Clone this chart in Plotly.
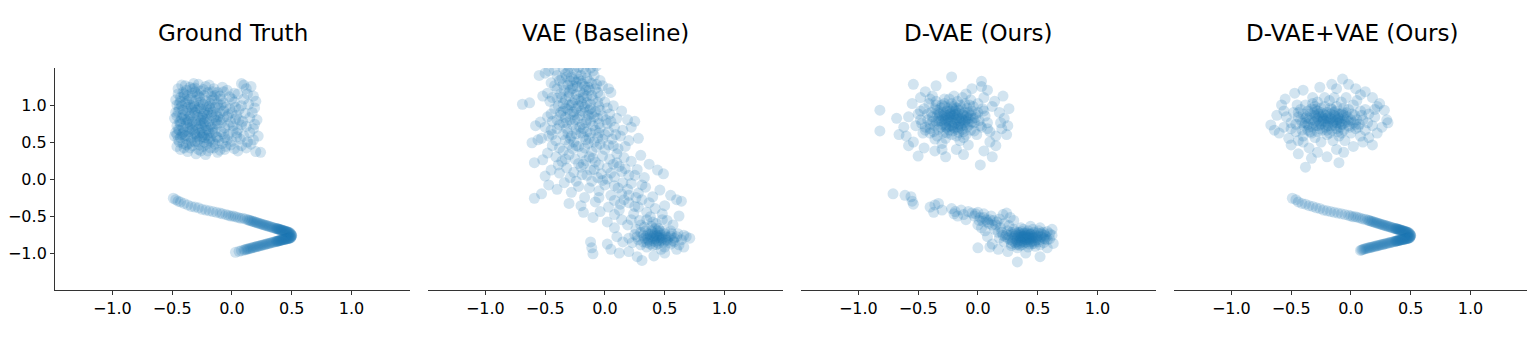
import plotly.graph_objects as go

# panel titles and tick labels
TITLES = ["Ground Truth", "VAE (Baseline)", "D-VAE (Ours)", "D-VAE+VAE (Ours)"]
TICK_VALS = [-1.0, -0.5, 0.0, 0.5, 1.0]
TICK_TEXT = ["\u22121.0", "\u22120.5", "0.0", "0.5", "1.0"]

# ---- Ground Truth: uniform blob + curve ----
GT_BLOB = [
    (-0.42, 1.27), (-0.35, 1.24), (-0.28, 1.28), (-0.22, 1.25), (-0.15, 1.22), (-0.08, 1.24), (0.08, 1.29),
    (0.12, 1.22), (0.16, 1.25), (-0.38, 1.20), (-0.31, 1.18), (-0.45, 1.15), (-0.40, 1.12), (-0.33, 1.16),
    (-0.27, 1.10), (-0.20, 1.17), (-0.14, 1.13), (-0.07, 1.18), (-0.02, 1.11), (0.05, 1.15), (0.10, 1.08),
    (0.18, 1.12), (-0.24, 1.21), (-0.43, 1.05), (-0.36, 1.07), (-0.17, 1.06), (-0.46, 1.00), (-0.39, 1.02),
    (-0.31, 0.98), (-0.26, 1.04), (-0.21, 0.99), (-0.12, 1.02), (-0.05, 0.97), (0.02, 1.04), (0.08, 0.99),
    (0.14, 1.01), (-0.34, 1.09), (-0.09, 1.08), (-0.44, 0.95), (0.19, 0.96), (-0.47, 0.90), (-0.41, 0.93),
    (-0.36, 0.89), (-0.29, 0.93), (-0.23, 0.91), (-0.18, 0.95), (-0.13, 0.88), (-0.07, 0.92), (0.00, 0.90),
    (0.06, 0.94), (0.11, 0.89), (-0.32, 0.86), (-0.25, 0.85), (-0.40, 0.84), (-0.48, 0.82), (-0.43, 0.78),
    (-0.37, 0.81), (-0.30, 0.79), (-0.24, 0.82), (-0.19, 0.78), (-0.15, 0.83), (-0.10, 0.80), (-0.04, 0.84),
    (0.03, 0.81), (0.09, 0.78), (0.15, 0.83), (0.21, 0.80), (-0.27, 0.75), (-0.35, 0.74), (-0.46, 0.72),
    (-0.41, 0.69), (-0.33, 0.71), (-0.28, 0.68), (-0.22, 0.72), (-0.17, 0.70), (-0.12, 0.74), (-0.06, 0.69),
    (0.01, 0.72), (0.05, 0.67), (0.12, 0.71), (0.18, 0.68), (-0.38, 0.76), (-0.20, 0.66), (-0.47, 0.63),
    (-0.42, 0.60), (-0.36, 0.64), (-0.31, 0.61), (-0.25, 0.63), (-0.21, 0.59), (-0.16, 0.62), (-0.09, 0.64),
    (-0.03, 0.60), (0.04, 0.62), (0.10, 0.58), (0.15, 0.63), (-0.44, 0.66), (-0.29, 0.57), (-0.45, 0.53),
    (-0.39, 0.55), (-0.34, 0.51), (-0.27, 0.54), (-0.23, 0.50), (-0.18, 0.55), (-0.11, 0.52), (-0.06, 0.56),
    (0.00, 0.51), (0.07, 0.54), (0.13, 0.50), (0.18, 0.53), (-0.41, 0.48), (-0.14, 0.47), (-0.46, 0.44),
    (-0.40, 0.42), (-0.33, 0.45), (-0.28, 0.40), (-0.24, 0.44), (-0.20, 0.38), (-0.15, 0.42), (-0.10, 0.39),
    (-0.05, 0.44), (0.02, 0.41), (0.08, 0.45), (0.20, 0.37), (0.24, 0.36), (-0.37, 0.37), (-0.30, 0.34),
    (-0.22, 0.33), (-0.43, 1.10), (-0.37, 0.97), (-0.33, 0.93), (-0.26, 0.95), (-0.21, 0.86), (-0.16, 0.91),
    (-0.41, 0.87), (-0.35, 0.68), (-0.25, 0.69), (-0.19, 0.63), (-0.13, 0.57), (-0.39, 0.59), (-0.31, 0.50),
    (-0.44, 0.77), (-0.28, 1.13), (-0.18, 1.02), (-0.11, 0.96), (-0.23, 0.77), (-0.32, 1.01), (-0.14, 0.75),
    (-0.45, 1.22), (-0.39, 1.26), (-0.33, 1.22), (-0.26, 1.19), (-0.19, 1.27), (-0.12, 1.17), (-0.04, 1.20),
    (0.02, 1.16), (-0.41, 1.17), (-0.29, 1.15), (-0.23, 1.13), (-0.16, 1.18), (-0.10, 1.12), (-0.47, 1.07),
    (-0.38, 1.05), (-0.30, 1.06), (-0.24, 1.01), (-0.15, 1.08), (-0.07, 1.03), (0.00, 1.08), (-0.42, 0.99),
    (-0.35, 1.00), (-0.28, 0.96), (-0.19, 0.98), (-0.09, 1.00), (-0.02, 0.95), (-0.45, 0.91), (-0.38, 0.92),
    (-0.31, 0.90), (-0.24, 0.88), (-0.17, 0.86), (-0.10, 0.89), (-0.03, 0.87), (0.04, 0.86), (-0.46, 0.85),
    (-0.39, 0.80), (-0.33, 0.77), (-0.28, 0.83), (-0.21, 0.81), (-0.13, 0.79), (-0.07, 0.83), (-0.01, 0.77),
    (0.06, 0.80), (-0.43, 0.74), (-0.37, 0.70), (-0.30, 0.73), (-0.24, 0.75), (-0.18, 0.73), (-0.09, 0.76),
    (-0.03, 0.73), (0.08, 0.73), (-0.45, 0.67), (-0.40, 0.64), (-0.33, 0.66), (-0.27, 0.62), (-0.22, 0.66),
    (-0.14, 0.64), (-0.07, 0.61), (0.01, 0.65), (-0.48, 0.58), (-0.43, 0.56), (-0.37, 0.58), (-0.30, 0.59),
    (-0.25, 0.57), (-0.19, 0.52), (-0.12, 0.56), (-0.04, 0.53), (0.04, 0.57), (-0.44, 0.50), (-0.36, 0.48),
    (-0.29, 0.51), (-0.21, 0.47), (-0.16, 0.50), (-0.08, 0.48), (-0.01, 0.46), (-0.43, 0.40), (-0.35, 0.42),
    (-0.26, 0.38), (-0.18, 0.42), (-0.12, 0.36), (-0.06, 0.40), (0.05, 0.38), (0.12, 0.42), (0.16, 0.47),
    (0.22, 0.58), (0.19, 0.74), (0.17, 0.90), (0.13, 1.15), (0.20, 1.05), (0.10, 1.27), (0.03, 0.97),
    (-0.35, 0.85), (-0.26, 0.79), (-0.20, 0.93), (-0.14, 0.97), (-0.31, 0.64), (-0.23, 0.56), (-0.40, 1.15),
    (-0.32, 1.29), (-0.17, 1.12),
    (-0.44, 1.02), (-0.37, 1.13), (-0.34, 0.96), (-0.27, 1.00), (-0.22, 1.06), (-0.20, 0.89), (-0.42, 0.82),
    (-0.36, 0.78), (-0.29, 0.86), (-0.26, 0.72), (-0.16, 0.68), (-0.41, 0.62), (-0.34, 0.56), (-0.27, 0.46),
    (-0.20, 0.55), (-0.38, 0.46), (-0.46, 0.60), (-0.31, 1.23), (-0.24, 0.60), (-0.12, 0.84),
]
GT_CURVE = [
    (-0.49, -0.26), (-0.47, -0.28), (-0.45, -0.30), (-0.43, -0.31), (-0.40, -0.33), (-0.37, -0.35),
    (-0.34, -0.37), (-0.31, -0.38), (-0.28, -0.39), (-0.25, -0.41), (-0.22, -0.42), (-0.19, -0.43),
    (-0.16, -0.44), (-0.13, -0.45), (-0.10, -0.46), (-0.08, -0.47), (-0.05, -0.48), (-0.03, -0.49),
    (-0.01, -0.50), (0.01, -0.50), (0.03, -0.51), (0.05, -0.52), (0.07, -0.53), (0.09, -0.53),
    (0.11, -0.54), (0.13, -0.55), (0.14, -0.555), (0.15, -0.56), (0.16, -0.565), (0.17, -0.57),
    (0.18, -0.575), (0.19, -0.58), (0.20, -0.585), (0.21, -0.59), (0.22, -0.595), (0.23, -0.60),
    (0.24, -0.605), (0.25, -0.61), (0.26, -0.615), (0.27, -0.62), (0.28, -0.625), (0.29, -0.63),
    (0.30, -0.635), (0.31, -0.64), (0.32, -0.645), (0.33, -0.65), (0.34, -0.655), (0.35, -0.66),
    (0.36, -0.665), (0.37, -0.67), (0.38, -0.675), (0.39, -0.68), (0.40, -0.685), (0.41, -0.69),
    (0.42, -0.695), (0.43, -0.70), (0.44, -0.705), (0.45, -0.71), (0.46, -0.715), (0.47, -0.72),
    (0.48, -0.73), (0.49, -0.74), (0.495, -0.75), (0.50, -0.76), (0.50, -0.77), (0.495, -0.785),
    (0.49, -0.795), (0.48, -0.80), (0.47, -0.805), (0.46, -0.808), (0.45, -0.811), (0.44, -0.814),
    (0.43, -0.818), (0.42, -0.822), (0.41, -0.827), (0.40, -0.831), (0.39, -0.835), (0.38, -0.840),
    (0.37, -0.844), (0.36, -0.848), (0.35, -0.852), (0.34, -0.857), (0.33, -0.861), (0.32, -0.865),
    (0.31, -0.870), (0.30, -0.874), (0.29, -0.878), (0.28, -0.882), (0.27, -0.887), (0.26, -0.891),
    (0.25, -0.895), (0.24, -0.900), (0.23, -0.904), (0.22, -0.908), (0.21, -0.912), (0.20, -0.917),
    (0.19, -0.921), (0.18, -0.925), (0.17, -0.930), (0.16, -0.934), (0.15, -0.938), (0.14, -0.943),
    (0.13, -0.947), (0.12, -0.951), (0.11, -0.955), (0.10, -0.960), (0.08, -0.968), (0.06, -0.977),
    (0.03, -0.990),
    (0.485, -0.725), (0.475, -0.718), (0.465, -0.712), (0.455, -0.708), (0.445, -0.702), (0.435, -0.698),
    (0.425, -0.692), (0.415, -0.688), (0.405, -0.682), (0.395, -0.678), (0.385, -0.672), (0.375, -0.668),
    (0.497, -0.765), (0.492, -0.79), (0.485, -0.798), (0.475, -0.803), (0.465, -0.806), (0.455, -0.81),
    (0.445, -0.813), (0.435, -0.816), (0.425, -0.82), (0.415, -0.825), (0.405, -0.829), (0.395, -0.833),
    (0.385, -0.838), (0.375, -0.842),
]

# ---- VAE (Baseline): one smeared band ----
VAE_CLOUD = [
    (-0.55, 1.40), (-0.50, 1.43), (-0.42, 1.47), (-0.35, 1.50), (-0.30, 1.52), (-0.26, 1.48), (-0.22, 1.51),
    (-0.18, 1.49), (-0.12, 1.50), (-0.07, 1.53), (-0.33, 1.42), (-0.28, 1.38), (-0.20, 1.40), (-0.15, 1.36),
    (-0.09, 1.40), (-0.04, 1.33), (-0.38, 1.33), (-0.45, 1.30), (-0.31, 1.27), (-0.24, 1.31), (-0.17, 1.25),
    (-0.11, 1.29), (-0.02, 1.26), (0.03, 1.22), (-0.40, 1.22), (-0.34, 1.20), (-0.27, 1.22), (-0.21, 1.18),
    (-0.13, 1.20), (-0.06, 1.17), (0.05, 1.17), (-0.48, 1.16),
    (-0.69, 1.01), (-0.63, 1.03), (-0.52, 1.12), (-0.46, 1.05), (-0.40, 1.09), (-0.35, 1.02), (-0.30, 1.12),
    (-0.25, 1.07), (-0.22, 0.99), (-0.18, 1.10), (-0.15, 1.03), (-0.10, 1.08), (-0.05, 0.98), (0.00, 1.04),
    (0.07, 0.99), (0.14, 0.92), (-0.42, 0.95), (-0.37, 0.90), (-0.31, 0.94), (-0.26, 0.87), (-0.20, 0.92),
    (-0.14, 0.86), (-0.08, 0.91), (-0.02, 0.85), (0.04, 0.88), (0.10, 0.82), (0.25, 0.78), (0.19, 0.80),
    (-0.48, 0.84), (-0.54, 0.77), (-0.40, 0.80), (-0.33, 0.83), (-0.23, 0.81), (-0.17, 0.97), (-0.28, 1.00),
    (-0.12, 0.95),
    (-0.58, 0.72), (-0.50, 0.70), (-0.45, 0.66), (-0.38, 0.73), (-0.32, 0.68), (-0.27, 0.74), (-0.21, 0.70),
    (-0.16, 0.76), (-0.10, 0.72), (-0.04, 0.69), (0.02, 0.75), (0.08, 0.70), (0.15, 0.66), (0.22, 0.70),
    (-0.61, 0.49), (-0.53, 0.55), (-0.47, 0.58), (-0.41, 0.52), (-0.35, 0.60), (-0.29, 0.55), (-0.24, 0.61),
    (-0.18, 0.57), (-0.12, 0.62), (-0.06, 0.56), (0.00, 0.60), (0.06, 0.54), (0.13, 0.58), (0.20, 0.52),
    (0.28, 0.55), (-0.44, 0.45), (-0.38, 0.42), (-0.30, 0.47), (-0.22, 0.44), (-0.14, 0.48), (-0.07, 0.43),
    (0.03, 0.46), (0.11, 0.41), (0.17, 0.44), (-0.56, 0.53),
    (-0.59, 0.22), (-0.52, 0.26), (-0.48, 0.35), (-0.41, 0.30), (-0.36, 0.24), (-0.30, 0.33), (-0.25, 0.27),
    (-0.19, 0.35), (-0.13, 0.30), (-0.08, 0.23), (-0.02, 0.31), (0.04, 0.27), (0.10, 0.34), (0.16, 0.29),
    (0.22, 0.24), (0.30, 0.32), (0.37, 0.20), (0.44, 0.12), (0.49, 0.07), (-0.45, 0.12), (-0.38, 0.08),
    (-0.32, 0.15), (-0.26, 0.09), (-0.20, 0.16), (-0.15, 0.05), (-0.09, 0.13), (-0.03, 0.07), (0.02, 0.15),
    (0.08, 0.03), (0.14, 0.10), (0.20, 0.05), (0.27, 0.13), (0.33, 0.02), (-0.50, 0.04),
    (-0.59, -0.26), (-0.53, -0.20), (-0.47, -0.08), (-0.40, -0.14), (-0.34, -0.05), (-0.28, -0.18),
    (-0.22, -0.10), (-0.17, -0.25), (-0.11, -0.03), (-0.05, -0.16), (0.00, -0.08), (0.05, -0.22),
    (0.11, -0.12), (0.16, -0.28), (0.22, -0.06), (0.28, -0.19), (0.34, -0.11), (0.40, -0.24), (0.46, -0.15),
    (0.55, -0.22), (0.60, -0.28), (0.64, -0.30), (-0.30, -0.33), (-0.20, -0.36), (-0.08, -0.31),
    (0.03, -0.38), (0.13, -0.34), (0.25, -0.37), (0.37, -0.32), (0.50, -0.36),
    (-0.18, -0.45), (-0.10, -0.52), (-0.04, -0.44), (0.02, -0.58), (0.08, -0.48), (0.14, -0.55),
    (0.19, -0.62), (0.24, -0.47), (0.29, -0.56), (0.33, -0.65), (0.38, -0.51), (0.43, -0.60), (0.48, -0.47),
    (0.52, -0.56), (0.57, -0.62), (0.62, -0.50), (0.08, -0.66), (0.26, -0.68), (0.45, -0.67), (0.55, -0.70),
    (0.25, -0.75), (0.30, -0.72), (0.33, -0.80), (0.36, -0.74), (0.38, -0.78), (0.40, -0.72), (0.42, -0.81),
    (0.44, -0.76), (0.46, -0.70), (0.48, -0.79), (0.50, -0.74), (0.52, -0.83), (0.55, -0.77), (0.58, -0.80),
    (0.61, -0.74), (0.64, -0.82), (0.68, -0.78), (0.71, -0.80), (0.35, -0.86), (0.40, -0.90), (0.45, -0.87),
    (0.50, -0.92), (0.55, -0.88), (0.30, -0.89), (0.28, -0.82), (0.37, -0.84), (0.43, -0.85), (0.47, -0.83),
    (0.53, -0.79), (0.41, -0.77), (0.39, -0.70), (0.35, -0.77), (0.45, -0.79), (0.49, -0.86), (0.58, -0.85),
    (0.62, -0.89), (0.32, -0.76), (0.20, -0.80), (0.15, -0.85), (0.10, -0.78),
    (-0.11, -0.93), (-0.10, -1.01), (-0.12, -0.85), (0.05, -0.95), (0.12, -1.00), (0.20, -0.98),
    (0.27, -1.05), (0.31, -1.10), (0.41, -1.04), (0.50, -1.00), (0.60, -0.95), (0.66, -0.92), (0.02, -0.88),
    (-0.47, 1.46), (-0.40, 1.40), (-0.31, 1.45), (-0.24, 1.42), (-0.16, 1.44), (-0.10, 1.46), (-0.36, 1.36),
    (-0.29, 1.32), (-0.22, 1.35), (-0.13, 1.32), (-0.07, 1.28), (-0.42, 1.26), (-0.35, 1.28), (-0.27, 1.26),
    (-0.19, 1.29), (-0.14, 1.24), (-0.08, 1.22), (-0.37, 1.15), (-0.30, 1.17), (-0.24, 1.14), (-0.18, 1.15),
    (-0.11, 1.13), (-0.04, 1.12), (-0.44, 1.10), (-0.33, 1.07), (-0.27, 1.03), (-0.20, 1.05), (-0.12, 1.01),
    (-0.06, 1.04), (0.02, 0.96), (-0.39, 0.99), (-0.33, 0.96), (-0.24, 0.95), (-0.17, 0.90), (-0.11, 0.88),
    (-0.04, 0.93), (-0.45, 0.88), (-0.37, 0.86), (-0.29, 0.88), (-0.21, 0.86), (-0.15, 0.80), (-0.06, 0.82),
    (0.01, 0.80), (-0.44, 0.78), (-0.35, 0.76), (-0.29, 0.80), (-0.19, 0.74), (-0.12, 0.78), (-0.05, 0.75),
    (0.05, 0.78), (-0.40, 0.68), (-0.31, 0.62), (-0.24, 0.67), (-0.15, 0.64), (-0.08, 0.66), (0.03, 0.64),
    (-0.44, 0.60), (-0.33, 0.53), (-0.26, 0.50), (-0.16, 0.53), (-0.09, 0.50), (-0.02, 0.54), (0.09, 0.60),
    (-0.35, 0.38), (-0.27, 0.41), (-0.17, 0.42), (-0.11, 0.37), (0.00, 0.40), (0.07, 0.45), (-0.39, 0.19),
    (-0.33, 0.27), (-0.22, 0.21), (-0.16, 0.25), (-0.05, 0.19), (0.07, 0.20), (0.12, 0.17), (-0.29, 0.02),
    (-0.19, 0.06), (-0.12, 0.12), (-0.06, 0.02), (0.05, 0.08), (0.17, 0.14), (0.25, 0.05), (-0.24, -0.03),
    (-0.13, -0.12), (-0.02, -0.02), (0.08, -0.09), (0.14, -0.20), (0.19, -0.14), (0.26, -0.25), (0.31, -0.08),
    (-0.05, -0.25), (0.08, -0.29), (0.20, -0.32), (0.31, -0.28), (0.42, -0.40), (0.12, -0.42), (0.22, -0.55),
    (0.35, -0.45), (0.40, -0.58), (0.48, -0.55),
    (0.34, -0.70), (0.38, -0.75), (0.42, -0.74), (0.47, -0.76), (0.51, -0.78), (0.36, -0.82), (0.40, -0.80),
    (0.44, -0.83), (0.48, -0.81), (0.53, -0.86), (0.32, -0.85), (0.38, -0.88), (0.43, -0.89), (0.46, -0.73),
    (0.50, -0.70), (0.56, -0.74), (0.60, -0.78), (0.27, -0.78), (0.42, -0.67), (0.35, -0.92), (0.47, -0.95),
    (0.57, -0.83), (0.23, -0.86), (0.66, -0.76),
    (-0.32, 1.38), (-0.26, 1.34), (-0.20, 1.32), (-0.29, 1.20), (-0.23, 1.25), (-0.16, 1.20), (-0.36, 1.10),
    (-0.22, 1.08), (-0.15, 1.12), (-0.30, 1.00), (-0.19, 1.01), (-0.13, 0.93), (-0.35, 0.92), (-0.26, 0.91),
    (-0.09, 0.84), (-0.25, 0.80), (-0.18, 0.68), (-0.32, 0.76), (-0.05, 0.62), (-0.20, 0.62), (-0.28, 0.58),
    (-0.13, 0.55), (-0.24, 0.45), (-0.04, 0.47), (-0.10, 0.28), (-0.18, 0.20), (0.10, 0.22), (0.02, 0.00),
    (0.15, -0.05), (0.20, -0.22), (0.28, -0.38), (0.35, -0.55), (0.30, -0.62), (0.39, -0.64), (0.44, -0.70),
    (0.36, -0.80), (0.41, -0.84), (0.46, -0.80), (0.51, -0.82), (0.43, -0.77),
]

# ---- D-VAE (Ours): two gaussian-ish blobs ----
DVAE_TOP = [
    (-0.30, 0.85), (-0.25, 0.80), (-0.20, 0.88), (-0.15, 0.78), (-0.22, 0.72), (-0.28, 0.76), (-0.18, 0.83),
    (-0.12, 0.86), (-0.33, 0.90), (-0.26, 0.92), (-0.21, 0.95), (-0.16, 0.93), (-0.10, 0.80), (-0.07, 0.74),
    (-0.35, 0.78), (-0.38, 0.84), (-0.31, 0.70), (-0.24, 0.66), (-0.17, 0.70), (-0.13, 0.67), (-0.08, 0.90),
    (-0.04, 0.82), (-0.28, 0.98), (-0.22, 1.02), (-0.15, 1.00), (-0.40, 0.74), (-0.36, 0.95), (-0.19, 0.76),
    (-0.26, 0.86), (-0.11, 0.73), (-0.23, 0.84), (-0.29, 0.81), (-0.14, 0.82), (-0.20, 0.69), (-0.33, 0.82),
    (-0.05, 0.77), (-0.09, 0.96), (-0.02, 0.88), (0.01, 0.79), (-0.42, 0.88), (-0.27, 0.73), (-0.17, 0.89),
    (-0.45, 0.95), (-0.48, 0.80), (-0.44, 0.70), (-0.40, 0.62), (-0.34, 0.58), (-0.27, 0.55), (-0.18, 0.58),
    (-0.10, 0.60), (-0.03, 0.65), (0.03, 0.70), (0.06, 0.85), (0.04, 0.95), (0.00, 1.02), (-0.06, 1.07),
    (-0.13, 1.10), (-0.20, 1.12), (-0.28, 1.08), (-0.35, 1.05), (-0.41, 1.02), (-0.50, 0.88), (-0.52, 0.72),
    (-0.46, 0.62), (0.08, 0.76), (0.10, 0.64), (-0.38, 1.12), (-0.10, 1.15), (0.05, 1.10), (0.12, 0.98),
    (-0.15, 0.52), (-0.30, 0.48),
    (-0.55, 1.02), (-0.58, 0.84), (-0.62, 0.70), (-0.60, 0.58), (-0.54, 0.50), (-0.50, 0.31), (-0.45, 0.42),
    (-0.36, 0.38), (-0.27, 0.30), (-0.18, 0.40), (-0.08, 0.46), (0.02, 0.19), (0.05, 0.38), (0.10, 0.50),
    (0.15, 0.58), (0.20, 0.68), (0.25, 0.72), (0.22, 0.82), (0.18, 0.90), (0.21, 1.12), (0.14, 1.05),
    (0.08, 1.20), (0.03, 1.25), (-0.05, 1.22), (-0.22, 1.38), (-0.35, 1.26), (-0.44, 1.18), (-0.54, 1.28),
    (-0.48, 1.10), (-0.82, 0.93), (-0.82, 0.65), (-0.68, 0.82), (-0.66, 0.60), (0.15, 0.45), (0.24, 0.60),
    (0.12, 0.30), (0.03, 1.32), (-0.12, 0.33), (-0.30, 0.40), (0.26, 0.95), (-0.58, 0.45), (0.19, 0.76),
    (-0.32, 0.88), (-0.27, 0.83), (-0.24, 0.77), (-0.21, 0.85), (-0.18, 0.80), (-0.16, 0.74), (-0.13, 0.80),
    (-0.11, 0.90), (-0.25, 0.95), (-0.19, 0.92), (-0.14, 0.96), (-0.30, 0.74), (-0.26, 0.69), (-0.21, 0.65),
    (-0.16, 0.63), (-0.09, 0.70), (-0.06, 0.86), (-0.03, 0.76), (-0.36, 0.72), (-0.34, 0.86), (-0.39, 0.90),
    (-0.28, 1.02), (-0.20, 0.98), (-0.11, 1.02), (-0.04, 0.98), (0.00, 0.90), (-0.42, 0.80), (-0.44, 0.66),
    (-0.37, 0.64), (-0.29, 0.62), (-0.22, 0.60), (-0.06, 0.66), (0.02, 0.72), (-0.31, 0.96), (-0.23, 0.88),
    (-0.17, 0.86), (-0.12, 0.76), (-0.08, 0.82), (-0.27, 0.79), (-0.20, 0.82), (-0.24, 0.71), (-0.33, 0.78),
    (-0.15, 0.70), (-0.35, 1.00), (-0.17, 1.05), (-0.07, 1.00), (0.05, 0.92), (0.08, 0.68), (-0.48, 0.92),
    (-0.47, 0.75), (-0.40, 1.08), (-0.24, 1.08), (-0.01, 0.60), (-0.12, 0.56), (-0.36, 0.54),
    (-0.29, 0.90), (-0.25, 0.84), (-0.22, 0.79), (-0.19, 0.87), (-0.16, 0.82), (-0.13, 0.88), (-0.10, 0.84),
    (-0.27, 0.70), (-0.23, 0.92), (-0.20, 0.74), (-0.31, 0.79), (-0.34, 0.93), (-0.14, 0.72), (-0.08, 0.77),
    (-0.05, 0.92), (-0.38, 0.78), (-0.26, 0.62), (-0.18, 0.96), (-0.12, 0.64), (-0.02, 0.83), (-0.30, 1.00),
    (-0.40, 0.68), (-0.22, 0.98), (-0.09, 0.86), (-0.17, 0.67), (-0.33, 0.67), (-0.24, 0.87), (-0.21, 0.71),
    (-0.11, 0.78), (-0.28, 0.87),
]
DVAE_BOTTOM = [
    (-0.71, -0.20), (-0.61, -0.22), (-0.56, -0.24), (-0.55, -0.30), (-0.54, -0.34), (-0.40, -0.38),
    (-0.36, -0.35), (-0.33, -0.33), (-0.37, -0.45), (-0.30, -0.42), (-0.22, -0.40), (-0.19, -0.44),
    (-0.14, -0.42), (-0.12, -0.48), (-0.08, -0.44), (-0.05, -0.46), (-0.03, -0.50), (0.00, -0.45),
    (0.02, -0.52), (0.05, -0.47), (0.04, -0.57), (0.07, -0.55), (0.09, -0.60), (0.11, -0.50), (0.13, -0.56),
    (-0.10, -0.55), (-0.17, -0.50), (0.00, -0.62), (0.03, -0.66), (0.06, -0.70), (0.15, -0.62),
    (0.18, -0.54), (0.21, -0.48), (0.24, -0.46), (0.27, -0.52), (0.30, -0.56), (0.14, -0.68), (-0.20, -0.47),
    (0.20, -0.72), (0.23, -0.78), (0.25, -0.70), (0.27, -0.82), (0.29, -0.75), (0.30, -0.68), (0.31, -0.86),
    (0.33, -0.79), (0.34, -0.72), (0.35, -0.83), (0.36, -0.76), (0.37, -0.89), (0.38, -0.80), (0.39, -0.73),
    (0.40, -0.85), (0.41, -0.78), (0.42, -0.70), (0.43, -0.82), (0.44, -0.75), (0.45, -0.88), (0.46, -0.80),
    (0.47, -0.72), (0.48, -0.84), (0.50, -0.77), (0.51, -0.70), (0.52, -0.82), (0.54, -0.75), (0.55, -0.86),
    (0.57, -0.78), (0.58, -0.71), (0.60, -0.81), (0.62, -0.76), (0.28, -0.90), (0.33, -0.93), (0.42, -0.92),
    (0.48, -0.91), (0.36, -0.66), (0.44, -0.64), (0.52, -0.66), (0.26, -0.63), (0.22, -0.85), (0.18, -0.80),
    (0.32, -0.82), (0.38, -0.77), (0.41, -0.82), (0.35, -0.79), (0.39, -0.86), (0.45, -0.78), (0.43, -0.74),
    (0.37, -0.71), (0.34, -0.88), (0.46, -0.84), (0.40, -0.76), (0.36, -0.81), (0.31, -0.77), (0.49, -0.79),
    (0.53, -0.73), (0.29, -0.84), (0.24, -0.75), (0.56, -0.81),
    (0.00, -0.93), (0.12, -0.88), (0.17, -0.95), (0.25, -0.98), (0.33, -1.12), (0.40, -1.00),
    (0.52, -1.05), (0.58, -0.93), (0.63, -0.87), (0.08, -0.78), (0.62, -0.68), (0.10, -0.92),
    (0.26, -0.76), (0.28, -0.72), (0.30, -0.80), (0.32, -0.74), (0.33, -0.85), (0.35, -0.73), (0.36, -0.79),
    (0.37, -0.84), (0.38, -0.74), (0.39, -0.81), (0.40, -0.79), (0.41, -0.86), (0.42, -0.76), (0.43, -0.79),
    (0.44, -0.85), (0.45, -0.74), (0.46, -0.77), (0.47, -0.87), (0.48, -0.76), (0.49, -0.82), (0.50, -0.73),
    (0.51, -0.85), (0.53, -0.78), (0.55, -0.72), (0.56, -0.76), (0.58, -0.82), (0.60, -0.74), (0.34, -0.76),
    (0.37, -0.78), (0.40, -0.82), (0.42, -0.80), (0.44, -0.80), (0.39, -0.77), (0.36, -0.86), (0.43, -0.88),
    (0.31, -0.71), (0.47, -0.79), (0.35, -0.90), (0.28, -0.87), (0.52, -0.89), (0.25, -0.80), (0.21, -0.76),
    (0.38, -0.68), (0.46, -0.68), (0.55, -0.80), (0.32, -0.89), (0.41, -0.73),
    (0.05, -0.52), (0.08, -0.58), (0.10, -0.55), (0.12, -0.62), (0.16, -0.58), (0.19, -0.66), (0.01, -0.56),
    (-0.02, -0.47), (0.22, -0.60), (0.17, -0.72),
]

# ---- D-VAE+VAE (Ours): blob + recovered curve ----
DVAE2_TOP = [
    (-0.35, 0.82), (-0.30, 0.78), (-0.26, 0.85), (-0.22, 0.74), (-0.18, 0.80), (-0.14, 0.86), (-0.10, 0.76),
    (-0.06, 0.82), (-0.02, 0.72), (-0.32, 0.70), (-0.28, 0.92), (-0.20, 0.90), (-0.12, 0.68), (-0.08, 0.88),
    (-0.38, 0.76), (-0.24, 0.66), (-0.16, 0.72), (-0.04, 0.90), (0.00, 0.80), (-0.40, 0.88), (-0.34, 0.64),
    (-0.27, 0.78), (-0.19, 0.84), (-0.11, 0.80), (-0.30, 0.86), (-0.23, 0.82), (-0.15, 0.76), (-0.07, 0.74),
    (-0.36, 0.74), (-0.13, 0.92), (-0.25, 0.96), (-0.42, 0.80), (0.03, 0.86), (-0.09, 0.70), (-0.33, 0.95),
    (-0.17, 0.96), (-0.29, 0.72), (-0.21, 0.78),
    (-0.48, 0.90), (-0.50, 0.76), (-0.46, 0.64), (-0.40, 0.58), (-0.30, 0.56), (-0.20, 0.60), (-0.10, 0.58),
    (0.00, 0.62), (0.06, 0.70), (0.10, 0.80), (0.08, 0.92), (0.02, 1.00), (-0.08, 1.04), (-0.18, 1.06),
    (-0.28, 1.04), (-0.38, 1.00), (-0.45, 1.00), (-0.54, 0.84), (0.12, 0.66), (0.15, 0.88), (-0.14, 1.10),
    (-0.32, 1.10), (-0.44, 0.52), (-0.25, 0.50), (-0.05, 0.52), (0.05, 1.06), (0.14, 0.76), (-0.56, 0.70),
    (-0.67, 0.73), (-0.62, 0.86), (-0.60, 0.62), (-0.58, 1.00), (-0.55, 1.08), (-0.52, 0.55), (-0.50, 0.46),
    (-0.47, 1.16), (-0.40, 1.20), (-0.35, 0.42), (-0.38, 0.16), (-0.33, 0.28), (-0.28, 0.36), (-0.20, 0.30),
    (-0.12, 0.40), (-0.10, 0.22), (-0.06, 0.36), (0.02, 0.44), (0.10, 0.50), (0.15, 0.56), (0.22, 0.62),
    (0.26, 0.70), (0.30, 0.80), (0.28, 0.93), (0.24, 1.02), (0.18, 1.10), (0.12, 1.18), (0.04, 1.22),
    (-0.07, 1.35), (-0.16, 1.28), (-0.26, 1.24), (-0.12, 1.22), (0.20, 0.84), (0.31, 0.76), (-0.64, 0.66),
    (-0.44, 0.34), (0.18, 0.46), (-0.02, 1.28), (0.08, 1.14), (0.22, 0.98),
    (-0.37, 0.84), (-0.33, 0.80), (-0.31, 0.90), (-0.28, 0.82), (-0.25, 0.74), (-0.23, 0.88), (-0.21, 0.70),
    (-0.19, 0.76), (-0.17, 0.88), (-0.15, 0.80), (-0.13, 0.72), (-0.11, 0.84), (-0.09, 0.78), (-0.07, 0.90),
    (-0.05, 0.76), (-0.03, 0.84), (-0.01, 0.70), (0.02, 0.76), (-0.35, 0.70), (-0.39, 0.72), (-0.44, 0.84),
    (-0.42, 0.94), (-0.36, 0.92), (-0.26, 0.68), (-0.16, 0.66), (-0.06, 0.66), (0.05, 0.80), (0.07, 0.74),
    (-0.30, 0.98), (-0.22, 0.98), (-0.12, 0.98), (-0.02, 0.94), (-0.33, 0.62), (-0.18, 0.62), (-0.46, 0.74),
    (-0.27, 0.88), (-0.20, 0.82), (-0.14, 0.78), (-0.24, 0.78), (-0.10, 0.88), (0.09, 0.86), (0.12, 0.94),
    (-0.50, 0.68), (-0.41, 0.66), (-0.08, 0.62), (0.04, 0.68), (-0.32, 1.02), (-0.22, 1.10), (-0.04, 1.10),
    (0.18, 0.72), (0.20, 0.94), (-0.56, 0.92), (-0.40, 0.50), (-0.15, 0.52), (0.08, 0.58),
    (-0.38, 0.82), (-0.34, 0.88), (-0.31, 0.76), (-0.29, 0.84), (-0.27, 0.72), (-0.25, 0.90), (-0.23, 0.80),
    (-0.21, 0.86), (-0.19, 0.72), (-0.17, 0.82), (-0.14, 0.90), (-0.12, 0.76), (-0.10, 0.82), (-0.08, 0.74),
    (-0.06, 0.86), (-0.04, 0.80), (-0.02, 0.78), (0.01, 0.88), (-0.41, 0.76), (-0.36, 0.66), (-0.28, 0.64),
    (-0.20, 0.66), (-0.11, 0.64), (-0.44, 0.90), (-0.30, 0.94), (-0.16, 0.94), (-0.06, 0.96), (0.04, 0.74),
    (-0.24, 0.84), (-0.13, 0.84),
]
DVAE2_CURVE = [
    (-0.49, -0.26), (-0.46, -0.28), (-0.44, -0.31), (-0.41, -0.33), (-0.38, -0.34), (-0.35, -0.36),
    (-0.32, -0.37), (-0.29, -0.39), (-0.26, -0.40), (-0.23, -0.42), (-0.20, -0.43), (-0.17, -0.44),
    (-0.14, -0.45), (-0.11, -0.46), (-0.08, -0.47), (-0.05, -0.48), (-0.02, -0.49), (0.00, -0.50),
    (0.02, -0.51), (0.04, -0.51), (0.06, -0.52), (0.08, -0.53), (0.10, -0.54), (0.12, -0.545),
    (0.14, -0.555), (0.15, -0.56), (0.16, -0.565), (0.17, -0.57), (0.18, -0.575), (0.19, -0.58),
    (0.20, -0.585), (0.21, -0.59), (0.22, -0.595), (0.23, -0.60), (0.24, -0.605), (0.25, -0.61),
    (0.26, -0.615), (0.27, -0.62), (0.28, -0.625), (0.29, -0.63), (0.30, -0.635), (0.31, -0.64),
    (0.32, -0.645), (0.33, -0.65), (0.34, -0.655), (0.35, -0.66), (0.36, -0.665), (0.37, -0.67),
    (0.38, -0.675), (0.39, -0.68), (0.40, -0.685), (0.41, -0.69), (0.42, -0.695), (0.43, -0.70),
    (0.44, -0.705), (0.45, -0.71), (0.46, -0.715), (0.47, -0.72), (0.48, -0.73), (0.49, -0.74),
    (0.495, -0.75), (0.50, -0.76), (0.50, -0.77), (0.495, -0.785), (0.49, -0.795), (0.48, -0.80),
    (0.47, -0.805), (0.46, -0.808), (0.45, -0.811), (0.44, -0.814), (0.43, -0.818), (0.42, -0.822),
    (0.41, -0.826), (0.40, -0.830), (0.39, -0.834), (0.38, -0.838), (0.37, -0.842), (0.36, -0.846),
    (0.35, -0.850), (0.34, -0.854), (0.33, -0.858), (0.32, -0.862), (0.31, -0.866), (0.30, -0.870),
    (0.29, -0.874), (0.28, -0.878), (0.27, -0.882), (0.26, -0.886), (0.25, -0.890), (0.24, -0.894),
    (0.23, -0.898), (0.22, -0.902), (0.21, -0.906), (0.20, -0.910), (0.19, -0.914), (0.18, -0.918),
    (0.17, -0.922), (0.16, -0.926), (0.15, -0.930), (0.14, -0.934), (0.13, -0.938), (0.12, -0.942),
    (0.11, -0.946), (0.10, -0.952), (0.09, -0.958), (0.08, -0.965),
    (0.485, -0.725), (0.475, -0.718), (0.465, -0.712), (0.455, -0.708), (0.445, -0.702), (0.435, -0.698),
    (0.425, -0.692), (0.415, -0.688), (0.405, -0.682), (0.395, -0.678), (0.385, -0.672), (0.375, -0.668),
    (0.497, -0.765), (0.492, -0.79), (0.485, -0.798), (0.475, -0.803), (0.465, -0.806), (0.455, -0.81),
    (0.445, -0.813), (0.435, -0.816), (0.425, -0.82), (0.415, -0.824), (0.405, -0.828), (0.395, -0.832),
    (0.385, -0.836), (0.375, -0.840),
]

PANELS = [
    [GT_BLOB, GT_CURVE],
    [VAE_CLOUD],
    [DVAE_TOP, DVAE_BOTTOM],
    [DVAE2_TOP, DVAE2_CURVE],
]

COLOR = "#1f77b4"
# the page body has an 8px default margin, so the figure is drawn 8px smaller
# and offset to land on the same pixels as the reference
PAGE_PAD = 8
W, H = 1535 - PAGE_PAD, 347 - PAGE_PAD
ML, MR, MT, MB = 55 - PAGE_PAD, 6, 68 - PAGE_PAD, 57
PANEL_W, PANEL_STEP = 355, 373
FONT = "DejaVu Sans"

fig = go.Figure()
plot_w = W - ML - MR
plot_h = H - MT - MB

for i, (groups, title) in enumerate(zip(PANELS, TITLES)):
    n = "" if i == 0 else str(i + 1)
    for pts in groups:
        fig.add_trace(go.Scatter(
            x=[p[0] for p in pts], y=[p[1] for p in pts],
            mode="markers", xaxis="x" + n, yaxis="y" + n,
            marker=dict(size=11, color=COLOR, opacity=0.2, line=dict(width=0)),
            showlegend=False, hoverinfo="skip",
        ))
    d0 = PANEL_STEP * i / plot_w
    d1 = (PANEL_STEP * i + PANEL_W) / plot_w
    fig.update_layout(**{
        "xaxis" + n: dict(
            domain=[d0, d1], range=[-1.48, 1.49], anchor="y" + n,
            tickvals=TICK_VALS, ticktext=TICK_TEXT, ticks="outside", ticklen=4,
            tickwidth=1, tickcolor="#333", showline=True, linecolor="#333", linewidth=1,
            showgrid=False, zeroline=False, tickfont=dict(size=16, color="black"),
        ),
        "yaxis" + n: dict(
            domain=[0, 1], range=[-1.5, 1.5], anchor="x" + n,
            tickvals=TICK_VALS, ticktext=TICK_TEXT,
            ticks="outside" if i == 0 else "", ticklen=4, tickwidth=1, tickcolor="#333",
            showline=(i == 0), linecolor="#333", linewidth=1,
            showticklabels=(i == 0), showgrid=False, zeroline=False,
            tickfont=dict(size=16, color="black"),
        ),
    })
    fig.add_annotation(
        text=title, x=(d0 + d1) / 2, y=1 + (68 - 33) / plot_h,
        xref="paper", yref="paper", xanchor="center", yanchor="middle",
        showarrow=False, font=dict(size=23, color="black", family=FONT),
    )

fig.update_layout(
    width=W, height=H,
    margin=dict(l=ML, r=MR, t=MT, b=MB, autoexpand=False),
    paper_bgcolor="white", plot_bgcolor="white",
    font=dict(family=FONT, color="black"),
)

fig.write_html("out.html")
